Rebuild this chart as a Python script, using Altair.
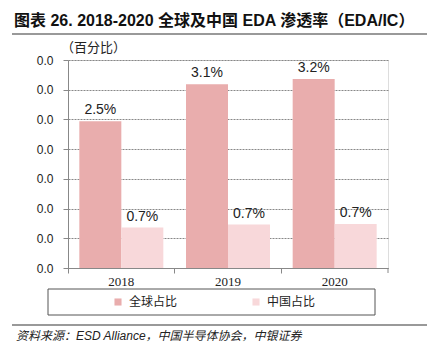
import altair as alt
import pandas as pd

years = ["2018", "2019", "2020"]
series = ["全球占比", "中国占比"]
global_vals = [0.0247, 0.0309, 0.0318]
china_vals = [0.0068, 0.0073, 0.0074]
y_ticks = [0, 0.005, 0.01, 0.015, 0.02, 0.025, 0.03, 0.035]
colors = ["#E9ADAD", "#F8D8DA"]

title_text = "图表 26. 2018-2020 全球及中国 EDA 渗透率（EDA/IC）"
unit_text = "（百分比）"
source_text = "资料来源：ESD Alliance，中国半导体协会，中银证券"

rows = []
for i, yr in enumerate(years):
    rows.append({"year": yr, "series": series[0], "value": global_vals[i]})
    rows.append({"year": yr, "series": series[1], "value": china_vals[i]})
df = pd.DataFrame(rows)

W, H = 320, 208
CJK = "Noto Sans CJK SC"

x_enc = alt.X("year:N", sort=years, title=None,
              scale=alt.Scale(paddingInner=0, paddingOuter=0),
              axis=alt.Axis(labelAngle=0, bandPosition=0, labelFont="Liberation Serif",
                            labelFontSize=13, labelColor="#222", domainColor="#888",
                            tickColor="#888", tickSize=5, labelPadding=2, grid=False))
xo_enc = alt.XOffset("series:N", sort=series,
                     scale=alt.Scale(paddingInner=0, paddingOuter=0.27))
y_enc = alt.Y("value:Q", title=None,
              scale=alt.Scale(domain=[0, 0.035], nice=False),
              axis=alt.Axis(values=y_ticks, tickCount=20, format=".1f", labelFont="Liberation Sans",
                            labelFontSize=12, labelColor="#222", domainColor="#888",
                            tickColor="#888", tickSize=5, labelPadding=10,
                            labelOverlap=False, labelBound=False, labelFlush=False,
                            grid=True, gridColor="#888", gridDash=[2, 1], gridWidth=1))

bars = alt.Chart(df).mark_bar().encode(
    x=x_enc, xOffset=xo_enc, y=y_enc,
    color=alt.Color("series:N", sort=series, title=None,
                    scale=alt.Scale(domain=series, range=colors),
                    legend=alt.Legend(orient="none", direction="horizontal",
                                      legendX=44, legendY=236,
                                      symbolType="square", symbolSize=50,
                                      symbolStrokeWidth=0,
                                      labelFont=CJK, labelFontSize=12, labelColor="#222",
                                      columnPadding=72, labelOffset=5)),
)

labels = alt.Chart(df).mark_text(dy=-4, baseline="bottom", font="Liberation Sans",
                                 fontSize=14, color="#222").encode(
    x=alt.X("year:N", sort=years), xOffset=alt.XOffset("series:N", sort=series),
    y="value:Q", text=alt.Text("value:Q", format=".1%"))

one = pd.DataFrame({"a": [0]})

title = alt.Chart(one).mark_text(align="left", baseline="middle", font="Liberation Sans, " + CJK,
                                 fontSize=16, fontWeight="bold", color="#111").encode(
    x=alt.value(-54), y=alt.value(-39), text=alt.value(title_text))
unit = alt.Chart(one).mark_text(align="left", baseline="middle", font=CJK,
                                fontSize=13, color="#222").encode(
    x=alt.value(-7), y=alt.value(-12), text=alt.value(unit_text))
source = alt.Chart(one).mark_text(align="left", baseline="middle", font="Liberation Sans, " + CJK,
                                  fontSize=12, fontStyle="italic", color="#222").encode(
    x=alt.value(-52), y=alt.value(276), text=alt.value(source_text))
line_top = alt.Chart(one).mark_rule(color="#999", strokeWidth=2).encode(
    x=alt.value(-56), x2=alt.value(359), y=alt.value(-26))
line_bot = alt.Chart(one).mark_rule(color="#999", strokeWidth=2).encode(
    x=alt.value(-56), x2=alt.value(359), y=alt.value(265))
end_tick = alt.Chart(one).mark_rule(color="#888", strokeWidth=1).encode(
    x=alt.value(W), y=alt.value(H), y2=alt.value(H + 5))
legend_box = alt.Chart(one).mark_rect(fillOpacity=0, stroke="#555", strokeWidth=1).encode(
    x=alt.value(-20), x2=alt.value(307), y=alt.value(229), y2=alt.value(255))

chart = alt.layer(bars, labels, title, unit, source, line_top, line_bot, end_tick, legend_box).properties(
    width=W, height=H,
    autosize=alt.AutoSizeParams(type="none"),
    padding={"left": 68, "top": 60, "right": 39, "bottom": 89},
).configure_view(stroke=None).configure(background="white")

chart.save("out.html", embed_options={"renderer": "svg", "actions": False})
